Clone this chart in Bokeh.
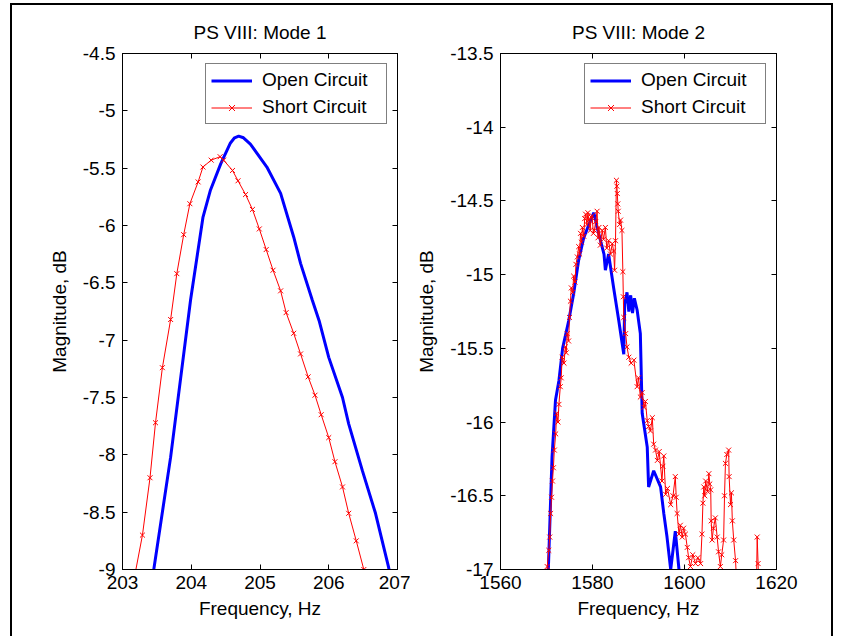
from bokeh.plotting import figure
from bokeh.layouts import row
from bokeh.models import Range1d, LinearAxis, FixedTicker, Legend, LegendItem, CustomJSTickFormatter
from bokeh.embed import file_html
from bokeh.resources import INLINE

FONT = "Liberation Sans"
FS = "19px"

# ---------------- Mode 1 data ----------------
m1_open_f = [203.40, 203.455, 203.70, 203.99, 204.17, 204.28, 204.43, 204.57, 204.63, 204.69,
             204.76, 204.86, 205.10, 205.30, 205.49, 205.59, 205.76, 205.86, 206.00, 206.20,
             206.29, 206.49, 206.68, 206.87, 206.95]
m1_open_db = [-9.3, -9.0, -8.02, -6.65, -5.93, -5.69, -5.46, -5.28, -5.235, -5.22,
              -5.235, -5.29, -5.49, -5.72, -6.10, -6.33, -6.65, -6.83, -7.15, -7.50,
              -7.73, -8.14, -8.51, -8.98, -9.2]

m1_short_f = [203.10, 203.29, 203.40, 203.48, 203.58, 203.70, 203.79, 203.89, 203.98, 204.10,
              204.17, 204.29, 204.42, 204.47, 204.60, 204.68, 204.79, 204.89, 204.99, 205.09,
              205.19, 205.30, 205.38, 205.49, 205.59, 205.70, 205.80, 205.89, 206.00, 206.09,
              206.20, 206.29, 206.40, 206.51]
m1_short_db = [-9.30, -8.70, -8.20, -7.72, -7.24, -6.82, -6.42, -6.08, -5.81, -5.62,
               -5.49, -5.43, -5.40, -5.43, -5.52, -5.61, -5.73, -5.86, -6.03, -6.21,
               -6.39, -6.57, -6.76, -6.94, -7.12, -7.32, -7.48, -7.65, -7.85, -8.06,
               -8.28, -8.51, -8.75, -9.00]

# ---------------- Mode 2 data ----------------
m2_open_f = [1570.2, 1570.4, 1571.2, 1571.96, 1572.7, 1573.5, 1574.85, 1575.9, 1577.0, 1578.1,
             1579.6, 1580.3, 1581.0, 1582.5, 1582.8, 1583.5, 1584.6, 1585.7, 1586.8, 1587.0,
             1587.5, 1587.9, 1588.3, 1588.7, 1589.1, 1589.7, 1590.4, 1590.8, 1591.9, 1592.2,
             1593.3, 1594.8, 1595.5, 1596.2, 1597.0, 1598.0, 1598.8]
m2_open_db = [-17.2, -17.0, -16.24, -15.85, -15.72, -15.50, -15.31, -15.13, -14.90, -14.75,
              -14.63, -14.58, -14.68, -14.86, -14.97, -14.86, -15.09, -15.31, -15.54, -15.20,
              -15.12, -15.25, -15.14, -15.26, -15.16, -15.24, -15.40, -15.94, -16.17, -16.44,
              -16.33, -16.44, -16.62, -16.78, -17.0, -16.74, -17.0]

m2_short_f = [1569.8, 1570.15, 1570.5, 1570.7, 1570.9, 1571.1, 1571.3, 1571.5, 1571.7, 1572.0,
              1572.2, 1572.5, 1572.7, 1573.0, 1573.2, 1573.4, 1573.8, 1574.1, 1574.3, 1574.5,
              1574.8, 1575.0, 1575.2, 1575.4, 1575.7, 1575.9, 1576.2, 1576.4, 1576.7, 1577.0,
              1577.2, 1577.4, 1577.6, 1577.8, 1578.1, 1578.3, 1578.5, 1578.8, 1579.0, 1579.2,
              1579.5, 1579.7, 1579.9, 1580.2, 1580.4, 1580.7, 1581.0, 1581.2, 1581.4, 1581.7,
              1582.1, 1582.4, 1582.8, 1583.1, 1583.5, 1583.9, 1584.3, 1584.6, 1584.8, 1585.0,
              1585.2, 1585.3, 1585.4, 1585.5, 1585.6, 1585.9, 1586.1, 1586.4, 1586.6, 1586.7,
              1586.8, 1587.2, 1587.5, 1587.9, 1588.4, 1589.0, 1589.7, 1590.0, 1590.4, 1590.8,
              1591.2, 1591.5, 1591.9, 1592.2, 1592.6, 1593.0, 1593.3, 1593.7, 1594.1, 1594.5,
              1595.1, 1595.3, 1595.5, 1595.9, 1596.3, 1597.0, 1597.5, 1598.0, 1598.2, 1598.4,
              1598.8, 1599.1, 1599.5, 1599.8, 1600.2, 1600.6, 1600.9, 1601.3, 1601.8, 1602.4,
              1602.9, 1603.5, 1603.8, 1604.0, 1604.2, 1604.4, 1604.6, 1605.0, 1605.3, 1605.5,
              1605.7, 1605.8, 1606.0, 1606.3, 1606.7, 1607.1, 1607.4, 1607.8, 1608.1, 1608.5,
              1608.7, 1608.9, 1609.2, 1609.6, 1609.7, 1610.0, 1610.2, 1610.4, 1610.7, 1611.1,
              1611.5, 1615.6, 1615.8, 1616.0, 1616.2]
m2_short_db = [-17.2, -16.98, -16.87, -16.78, -16.62, -16.51, -16.40, -16.31, -16.19, -16.08,
               -15.94, -16.00, -15.88, -15.76, -15.70, -15.56, -15.60, -15.49, -15.53, -15.40,
               -15.45, -15.29, -15.18, -15.09, -15.12, -15.01, -15.05, -14.93, -14.88, -14.81,
               -14.86, -14.72, -14.78, -14.68, -14.74, -14.62, -14.59, -14.66, -14.58, -14.63,
               -14.70, -14.61, -14.60, -14.72, -14.70, -14.64, -14.57, -14.75, -14.68, -14.80,
               -14.70, -14.76, -14.68, -14.82, -14.77, -14.86, -14.79, -14.84, -14.97, -14.77,
               -14.36, -14.40, -14.45, -14.52, -14.57, -14.66, -14.63, -14.70, -14.98, -15.15,
               -15.29, -15.40, -15.49, -15.56, -15.60, -15.58, -15.76, -15.70, -15.83, -15.80,
               -15.90, -15.86, -15.99, -16.03, -16.06, -15.97, -16.15, -16.19, -16.26, -16.20,
               -16.40, -16.30, -16.23, -16.49, -16.45, -16.56, -16.50, -16.37, -16.51, -16.62,
               -16.76, -16.70, -16.78, -16.72, -16.76, -16.85, -16.92, -16.98, -16.90, -16.96,
               -16.92, -16.96, -16.76, -16.55, -16.44, -16.50, -16.40, -16.47, -16.35, -16.42,
               -16.46, -16.67, -16.80, -16.72, -16.65, -16.78, -16.88, -16.98, -16.90, -16.80,
               -16.50, -16.28, -16.22, -16.19, -16.37, -16.56, -16.48, -16.67, -16.80, -16.94,
               -17.2, -17.2, -16.78, -16.96, -17.2]

# ---------------- axes / labels ----------------
titles = ["PS VIII: Mode 1", "PS VIII: Mode 2"]
x_label = "Frequency, Hz"
y_label = "Magnitude, dB"
legend_labels = ["Open Circuit", "Short Circuit"]
m1_xticks = [203, 204, 205, 206, 207]
m1_yticks = [-9, -8.5, -8, -7.5, -7, -6.5, -6, -5.5, -5, -4.5]
m2_xticks = [1560, 1580, 1600, 1620]
m2_yticks = [-17, -16.5, -16, -15.5, -15, -14.5, -14, -13.5]


def make_panel(title, xr, yr, xticks, yticks, of, odb, sf, sdb, width, bl, br):
    p = figure(width=width, height=631, x_range=Range1d(*xr), y_range=Range1d(*yr),
               output_backend="svg", toolbar_location=None,
               min_border_left=bl, min_border_right=br, min_border_top=48, min_border_bottom=67)
    p.title.text = title
    p.title.text_font = FONT
    p.title.text_font_size = FS
    p.title.text_font_style = "normal"
    p.title.text_color = "black"
    p.title.align = "center"
    p.title.standoff = 22
    p.grid.visible = False
    p.outline_line_color = "black"
    p.outline_line_width = 1
    p.background_fill_color = "white"
    p.border_fill_color = "white"

    fmt = CustomJSTickFormatter(code="return tick.toString()")
    for ax, ticks in ((p.xaxis[0], xticks), (p.yaxis[0], yticks)):
        ax.ticker = FixedTicker(ticks=ticks)
        ax.formatter = fmt
        ax.major_tick_in = 5
        ax.major_tick_out = 0
        ax.minor_tick_line_color = None
        ax.axis_line_color = "black"
        ax.major_tick_line_color = "black"
        ax.major_label_text_font = FONT
        ax.major_label_text_font_size = FS
        ax.major_label_text_color = "black"
        ax.axis_label_text_font = FONT
        ax.axis_label_text_font_size = FS
        ax.axis_label_text_font_style = "normal"
        ax.axis_label_text_color = "black"
    p.xaxis[0].axis_label = x_label
    p.yaxis[0].axis_label = y_label
    p.xaxis[0].major_label_standoff = 6
    p.xaxis[0].axis_label_standoff = 6
    p.yaxis[0].major_label_standoff = 7
    p.yaxis[0].axis_label_standoff = 10

    for side, ticks in (("above", xticks), ("right", yticks)):
        ax = LinearAxis(ticker=FixedTicker(ticks=ticks),
                        formatter=CustomJSTickFormatter(code="return ''"))
        ax.major_tick_in = 5
        ax.major_tick_out = 0
        ax.minor_tick_line_color = None
        ax.major_label_standoff = 0
        ax.major_label_text_font_size = "1px"
        ax.axis_line_color = "black"
        p.add_layout(ax, side)

    r_open = p.line(of, odb, line_color="#0000FF", line_width=3)
    r_sl = p.line(sf, sdb, line_color="#FF0000", line_width=1)
    r_sm = p.scatter(sf, sdb, marker="x", size=7, line_color="#FF0000", line_width=1)

    legend = Legend(items=[LegendItem(label=legend_labels[0], renderers=[r_open]),
                           LegendItem(label=legend_labels[1], renderers=[r_sl, r_sm])],
                    location="top_right")
    legend.label_text_font = FONT
    legend.label_text_font_size = FS
    legend.label_text_color = "black"
    legend.border_line_color = "black"
    legend.border_line_width = 1
    legend.background_fill_alpha = 1
    legend.glyph_width = 41
    legend.glyph_height = 21
    legend.label_height = 21
    legend.label_width = 119
    legend.label_standoff = 10
    legend.padding = 5
    legend.spacing = 5
    legend.margin = 10
    p.add_layout(legend)
    return p


p1 = make_panel(titles[0], (203, 207), (-9, -4.5), m1_xticks, m1_yticks,
                m1_open_f, m1_open_db, m1_short_f, m1_short_db, 398, 110, 13)
p2 = make_panel(titles[1], (1560, 1620), (-17, -13.5), m2_xticks, m2_yticks,
                m2_open_f, m2_open_db, m2_short_f, m2_short_db, 421, 90, 55)

layout = row(p1, p2, margin=(3, 0, 0, 10),
             styles={"border-top": "2px solid black", "border-left": "2px solid black",
                     "border-right": "2px solid black"})
open("out.html", "w").write(file_html(layout, INLINE))
